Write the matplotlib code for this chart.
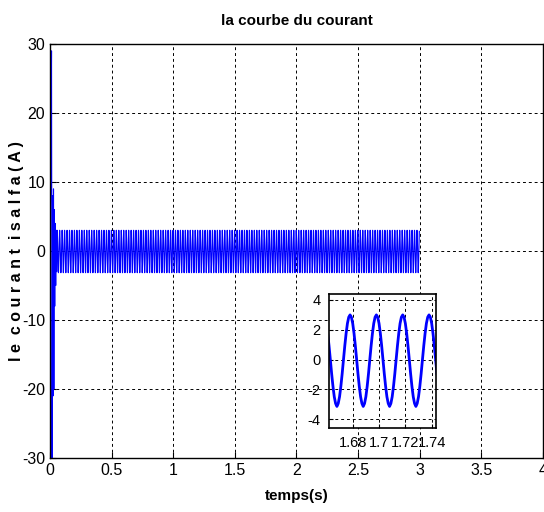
import numpy as np
import matplotlib
matplotlib.use('Agg')
import matplotlib.pyplot as plt

plt.rcParams['font.family'] = ['Liberation Sans Narrow', 'Liberation Sans', 'DejaVu Sans']
plt.rcParams['axes.unicode_minus'] = False

# Régime transitoire au démarrage
t_start = [0.0, 0.006, 0.012, 0.016, 0.019, 0.022, 0.025, 0.028, 0.031,
           0.034, 0.038, 0.042, 0.046, 0.050, 0.054]
i_start = [0.0, 12.0, 29.0, -30.0, -12.0, 8.0, -21.0, 9.0, -20.0,
           6.0, -8.0, 4.0, -5.0, 3.0, -3.0]

# Une période du courant en régime permanent (20 échantillons, 1 ms)
cycle = [3.0, 2.85, 2.43, 1.76, 0.93, 0.0, -0.95, -1.8, -2.5, -2.95,
         -3.15, -2.95, -2.5, -1.8, -0.95, 0.0, 0.93, 1.76, 2.43, 2.85]
dt = 0.001
t_steady0 = 0.058
t_end = 3.0

n_cycles = int(round((t_end - t_steady0) / (len(cycle) * dt)))
i_steady = np.tile(cycle, n_cycles)
t_steady = t_steady0 + np.arange(len(i_steady)) * dt

t = np.concatenate([t_start, t_steady])
i_alfa = np.concatenate([i_start, i_steady])

fig = plt.figure(figsize=(5.44, 5.12), dpi=100)
ax = fig.add_axes([0.092, 0.1055, 0.906, 0.8086])
ax.plot(t, i_alfa, color='blue', linewidth=0.8)
ax.set_xlim(0, 4)
ax.set_ylim(-30, 30)
ax.set_xticks(np.arange(0, 4.01, 0.5))
ax.set_xticklabels(['0', '0.5', '1', '1.5', '2', '2.5', '3', '3.5', '4'])
ax.set_yticks([-30, -20, -10, 0, 10, 20, 30])
ax.grid(True, color='black', linestyle=(0, (3, 3)), linewidth=0.7)
ax.tick_params(direction='in', labelsize=11.5, length=4)
for s in ax.spines.values():
    s.set_linewidth(1.0)
ax.set_title('la courbe du courant', fontsize=11, fontweight='bold', pad=14)
ax.set_xlabel('temps(s)', fontsize=11, fontweight='bold', labelpad=8)
ax.set_ylabel('l e  c o u r a n t  i s a l f a ( A )', fontsize=11.5,
              fontweight='bold')
ax.yaxis.set_label_coords(-0.052, 0.5)

# Zoom sur quelques périodes
ins = fig.add_axes([0.6048, 0.164, 0.1967, 0.2617])
ins.plot(t, i_alfa, color='blue', linewidth=2.0)
ins.set_xlim(1.662, 1.7433)
ins.set_ylim(-4.6, 4.4)
ins.set_xticks([1.68, 1.70, 1.72, 1.74])
ins.set_xticklabels(['1.68', '1.7', '1.72', '1.74'])
ins.set_yticks([-4, -2, 0, 2, 4])
ins.grid(True, color='black', linestyle=(0, (3, 3)), linewidth=0.7)
ins.tick_params(direction='in', labelsize=10.5, length=3, pad=6)
for s in ins.spines.values():
    s.set_linewidth(1.2)

fig.savefig('out.png', dpi=100)
